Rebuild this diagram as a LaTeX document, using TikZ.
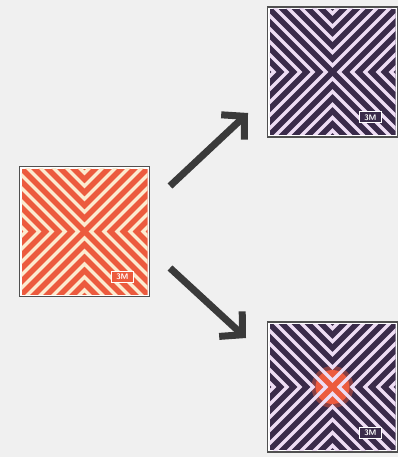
\documentclass[tikz,border=0pt]{standalone}
\usetikzlibrary{arrows.meta,calc}
\definecolor{bg}{HTML}{F0F0F0}
\definecolor{orangec}{HTML}{EC5B3E}
\definecolor{creamc}{HTML}{FCEBD0}
\definecolor{purplec}{HTML}{3A2B4A}
\definecolor{lavc}{HTML}{EEDDF4}
\definecolor{framec}{HTML}{505050}
\definecolor{arrowc}{HTML}{3A3A3A}
\newcommand\chevpattern[4]{%
  \begin{scope}[shift={(#1.center)}]
    \clip (-63,-63) rectangle (63,63);
    \fill[#2] (-63,-63) rectangle (63,63);
    #4
    \foreach \c in {6.5,19.5,32.5,45.5,58.5}{
      \draw[#3,line width=3.2pt,line join=miter]
        (\c+80,80) -- (\c,0) -- (\c+80,-80)
        (-\c-80,80) -- (-\c,0) -- (-\c-80,-80)
        (80,\c+80) -- (0,\c) -- (-80,\c+80)
        (80,-\c-80) -- (0,-\c) -- (-80,-\c-80);
    }
  \end{scope}}
\tikzset{
  sq/.style={draw=framec,line width=1.8pt,fill=white,minimum size=130pt,inner sep=0pt},
  logo/.style={draw=white,line width=0.8pt,minimum width=22pt,minimum height=11pt,inner sep=0pt,
    text=white,font=\sffamily\bfseries\fontsize{8}{8}\selectfont},
  arr/.style={draw=arrowc,line width=7pt,-{Straight Barb[length=16pt,width=34pt]}}
}
\begin{document}
\begin{tikzpicture}[x=1pt,y=-1pt]
\useasboundingbox[fill=bg] (0,0) rectangle (398,457);
\node[sq] (src) at (84.5,231.5) {};
\node[sq] (top) at (332.5,72) {};
\node[sq] (bot) at (332.5,387) {};
\chevpattern{src}{orangec}{creamc}{}
\chevpattern{top}{purplec}{lavc}{}
\chevpattern{bot}{purplec}{lavc}{\fill[orangec,opacity=.45] (0,0) circle (21); \fill[orangec] (0,0) circle (17);}
\node[logo,fill=orangec] (l1) at ($(src.south east)+(-28,-20.5)$) {3M};
\node[logo,fill=purplec] (l2) at ($(top.south east)+(-28,-20.5)$) {3M};
\node[logo,fill=purplec] (l3) at ($(bot.south east)+(-28,-20.5)$) {3M};
\coordinate (a1s) at (170,186);
\coordinate (a1e) at (248,113);
\coordinate (a2s) at (170,268);
\coordinate (a2e) at (246,338);
\draw[arr] (a1s) -- (a1e);
\draw[arr] (a2s) -- (a2e);
\end{tikzpicture}
\end{document}
